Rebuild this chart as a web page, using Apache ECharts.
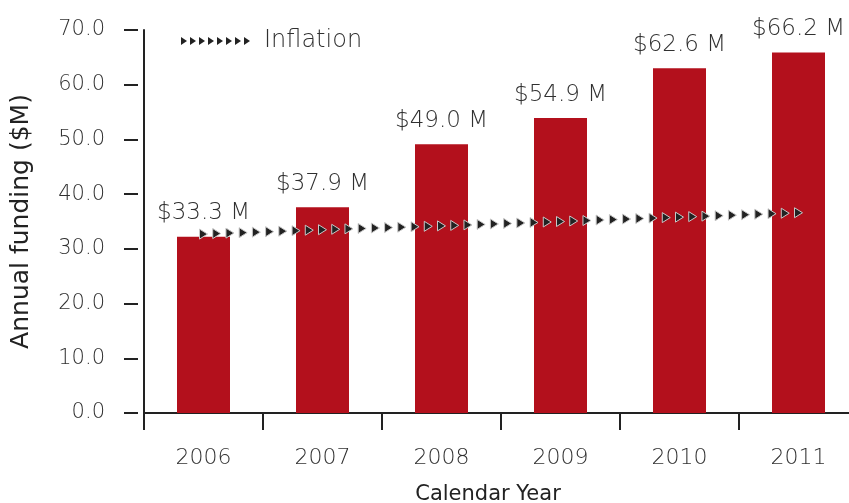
<!DOCTYPE html>
<html>
<head>
<meta charset="utf-8">
<script src="https://cdn.jsdelivr.net/npm/echarts@6/dist/echarts.min.js"></script>
<style>
	html, body { margin: 0; padding: 0; background: #fff; }
	#chart { width: 849px; height: 503px; }
</style>
</head>
<body>
<div id="chart"></div>
<script>
var years = ['2006', '2007', '2008', '2009', '2010', '2011'];
var funding = [32.2, 37.6, 49.1, 53.9, 63.0, 65.9];
var fundingLabels = ['$33.3 M', '$37.9 M', '$49.0 M', '$54.9 M', '$62.6 M', '$66.2 M'];
var inflation = [32.7, 33.5, 34.2, 35.0, 35.8, 36.6];
var yMin = 0, yMax = 70, yStep = 10;

var font = 'DejaVu Sans';
var ink = '#222';
var textGrey = '#303030';

// small right-pointing triangle
function tri(x, y) {
	return {
		type: 'polygon',
		shape: { points: [[x - 4, y - 5], [x + 4, y], [x - 4, y + 5]] },
		style: { fill: '#222', stroke: '#c8c8c8', lineWidth: 1 }
	};
}

// the inflation line is drawn as a chain of triangles, 9 per year step
function renderInflation(params, api) {
	var i = params.dataIndexInside;
	var p1 = api.coord([api.value(0), api.value(1)]);
	var kids = [];
	if (i > 0) {
		var p0 = api.coord([api.value(0, i - 1), api.value(1, i - 1)]);
		for (var k = 1; k < 9; k++) {
			kids.push(tri(p0[0] + (p1[0] - p0[0]) * k / 9, p0[1] + (p1[1] - p0[1]) * k / 9));
		}
	}
	kids.push(tri(p1[0], p1[1]));
	return { type: 'group', children: kids };
}

var legendIcon = 'path://';
for (var n = 0; n < 8; n++) {
	legendIcon += 'M' + (n * 9) + ',0L' + (n * 9 + 6) + ',4L' + (n * 9) + ',8Z';
}

var ec = echarts.init(document.getElementById('chart'));
ec.setOption({
	animation: false,
	textStyle: { fontFamily: font },
	grid: { left: 144, top: 30, width: 714, height: 383, outerBoundsMode: 'none', containLabel: false },
	legend: {
		data: ['Inflation'],
		left: 176,
		top: 24,
		icon: legendIcon,
		itemWidth: 71,
		itemHeight: 8,
		itemStyle: { borderWidth: 0 },
		textStyle: { fontFamily: font, fontSize: 24, fontWeight: 200, color: textGrey, padding: [0, 0, 0, 8] }
	},
	xAxis: {
		type: 'category',
		data: years,
		name: 'Calendar Year',
		nameLocation: 'middle',
		nameGap: 71,
		nameTextStyle: { fontFamily: font, fontSize: 21, color: ink, padding: [0, 26, 0, 0] },
		axisLine: { lineStyle: { color: ink, width: 2 } },
		axisTick: { show: true, interval: 0, length: 17, lineStyle: { color: ink, width: 2 } },
		axisLabel: { margin: 34, fontFamily: font, fontSize: 22, fontWeight: 200, color: textGrey }
	},
	yAxis: [{
		type: 'value',
		min: yMin,
		max: yMax,
		interval: yStep,
		axisLine: { show: true, lineStyle: { color: ink, width: 2 } },
		axisTick: { show: false },
		axisLabel: { show: false },
		splitLine: { show: false }
	}, {
		type: 'value',
		position: 'left',
		offset: 6,
		min: yMin,
		max: yMax,
		interval: yStep,
		name: 'Annual funding ($M)',
		nameLocation: 'middle',
		nameGap: 104,
		nameTextStyle: { fontFamily: font, fontSize: 25, color: ink },
		axisLine: { show: false },
		axisTick: { show: true, length: 14, lineStyle: { color: ink, width: 2 } },
		axisLabel: {
			margin: 33,
			fontFamily: font,
			fontSize: 21,
			fontWeight: 200,
			color: textGrey,
			formatter: function(v) { return v.toFixed(1); }
		},
		splitLine: { show: false }
	}],
	series: [{
		name: 'Funding',
		type: 'bar',
		barWidth: 53,
		itemStyle: { color: '#b3101c' },
		label: {
			show: true,
			position: 'top',
			distance: 12,
			fontFamily: font,
			fontSize: 23,
			fontWeight: 200,
			color: textGrey,
			formatter: function(p) { return fundingLabels[p.dataIndex]; }
		},
		data: funding
	}, {
		name: 'Inflation',
		type: 'custom',
		z: 5,
		itemStyle: { color: '#222' },
		renderItem: renderInflation,
		data: inflation.map(function(v, i) { return [i, v]; })
	}]
});
</script>
</body>
</html>
